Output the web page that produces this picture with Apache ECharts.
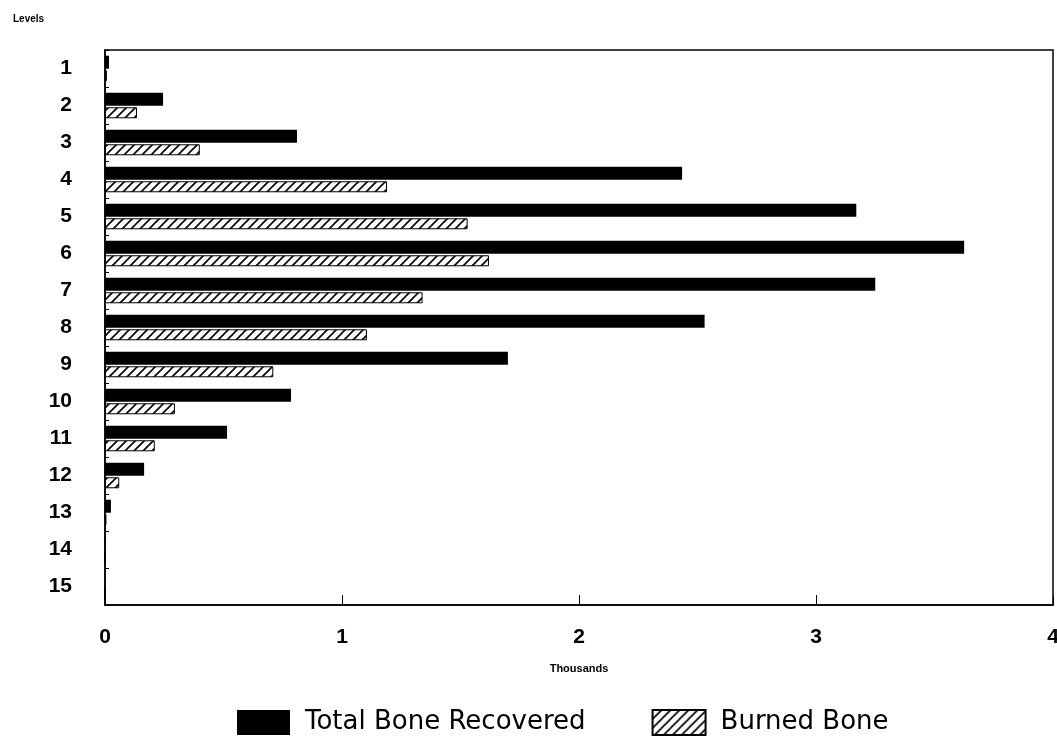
<!DOCTYPE html>
<html>
<head>
<meta charset="utf-8">
<script src="https://cdn.jsdelivr.net/npm/echarts@6/dist/echarts.min.js"></script>
<style>
  html, body { margin: 0; padding: 0; background: #fff; }
  #main { width: 1057px; height: 744px; }
</style>
</head>
<body>
<div id="main"></div>
<script>
var levels = ['1', '2', '3', '4', '5', '6', '7', '8', '9', '10', '11', '12', '13', '14', '15'];
var totalBone = [0.017, 0.245, 0.81, 2.435, 3.17, 3.625, 3.25, 2.53, 1.70, 0.785, 0.515, 0.165, 0.025, 0.004, 0];
var burnedBone = [0.008, 0.135, 0.40, 1.19, 1.53, 1.62, 1.34, 1.105, 0.71, 0.295, 0.21, 0.06, 0.006, 0, 0];
var xTicks = [0, 1, 2, 3, 4];

function makeHatch() {
    var c = document.createElement('canvas');
    c.width = 9;
    c.height = 9;
    var ctx = c.getContext('2d');
    ctx.fillStyle = '#fff';
    ctx.fillRect(0, 0, 9, 9);
    ctx.strokeStyle = '#000';
    ctx.lineWidth = 1.6;
    ctx.beginPath();
    ctx.moveTo(0, 9); ctx.lineTo(9, 0);
    ctx.moveTo(-4.5, 4.5); ctx.lineTo(4.5, -4.5);
    ctx.moveTo(4.5, 13.5); ctx.lineTo(13.5, 4.5);
    ctx.stroke();
    return c;
}

var font = '"Liberation Sans", Arial, sans-serif';
var myChart = echarts.init(document.getElementById('main'));

var option = {
    backgroundColor: '#fff',
    animation: false,
    title: {
        text: 'Levels',
        left: 8,
        top: 9,
        textStyle: { fontFamily: font, fontSize: 10, fontWeight: 'bold', color: '#000' }
    },
    grid: {
        left: 105, right: 4, top: 50, bottom: 139,
        outerBoundsMode: 'none',
        containLabel: false,
        show: true, borderColor: '#000', borderWidth: 1.5, backgroundColor: 'transparent'
    },
    legend: {
        bottom: 3,
        left: 232,
        itemWidth: 53,
        itemHeight: 25,
        itemGap: 66,
        icon: 'rect',
        textStyle: { fontFamily: '"DejaVu Sans", sans-serif', fontSize: 26, color: '#000', padding: [0, 0, 0, 10] },
        data: ['Total Bone Recovered', 'Burned Bone']
    },
    xAxis: {
        type: 'value',
        min: xTicks[0],
        max: xTicks[xTicks.length - 1],
        interval: 1,
        name: 'Thousands',
        nameLocation: 'middle',
        nameGap: 58,
        nameTextStyle: { fontFamily: font, fontSize: 11, fontWeight: 'bold', color: '#000' },
        axisLine: { show: true, lineStyle: { color: '#000', width: 1.5 } },
        axisTick: { show: true, inside: true, length: 10, lineStyle: { color: '#000' } },
        axisLabel: { fontFamily: font, fontSize: 21, fontWeight: 'bold', color: '#000', margin: 22 },
        splitLine: { show: false }
    },
    yAxis: {
        type: 'category',
        inverse: true,
        data: levels,
        axisLine: { show: true, lineStyle: { color: '#000', width: 1.5 } },
        axisTick: { show: true, inside: true, length: 4, lineStyle: { color: '#000' } },
        axisLabel: { fontFamily: font, fontSize: 21, fontWeight: 'bold', color: '#000', margin: 33 }
    },
    series: [
        {
            name: 'Total Bone Recovered',
            type: 'bar',
            data: totalBone,
            barWidth: 13,
            barGap: '12%',
            itemStyle: { color: '#000' }
        },
        {
            name: 'Burned Bone',
            type: 'bar',
            data: burnedBone,
            barWidth: 11,
            itemStyle: {
                color: { image: makeHatch(), repeat: 'repeat' },
                borderColor: '#000',
                borderWidth: 1
            }
        }
    ]
};

myChart.setOption(option);
</script>
</body>
</html>
